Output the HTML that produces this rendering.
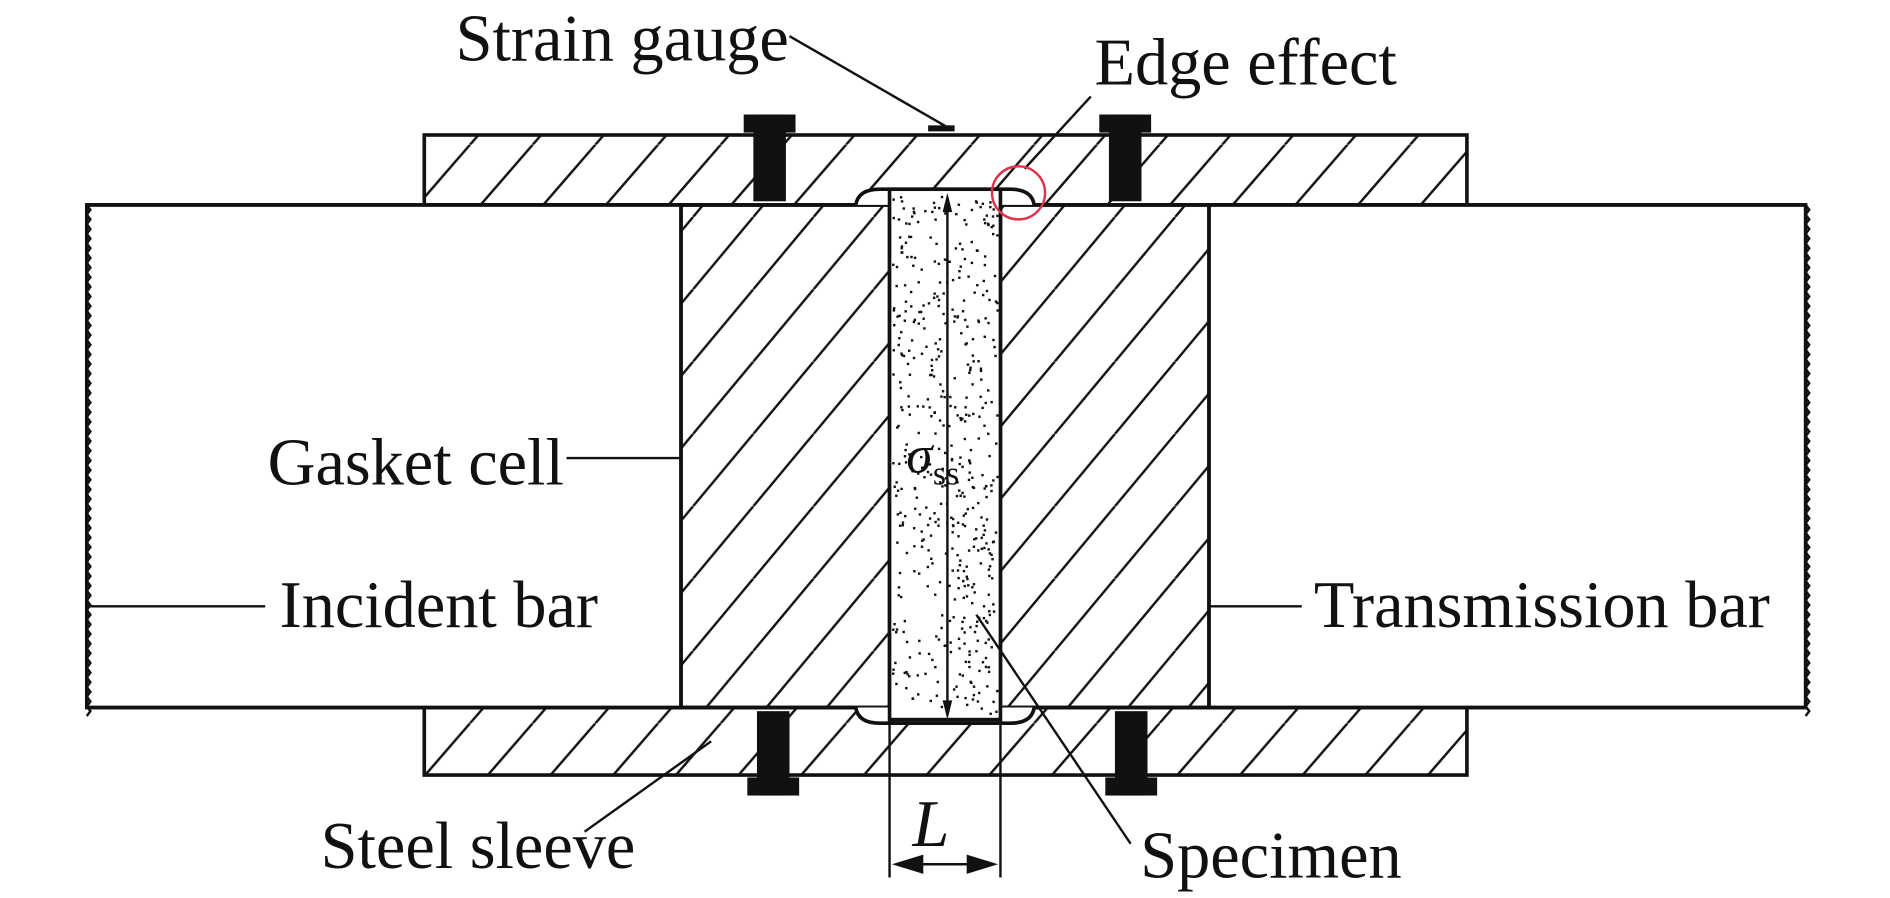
<!DOCTYPE html>
<html><head><meta charset="utf-8"><style>
html,body{margin:0;padding:0;background:#fff;width:1890px;height:898px;overflow:hidden}
svg{display:block}
text{font-family:"Liberation Serif",serif;fill:#111}
</style></head><body>
<svg id="s" width="1890" height="898" viewBox="0 0 1568 745" preserveAspectRatio="none" xmlns="http://www.w3.org/2000/svg">
<defs>
<pattern id="h" patternUnits="userSpaceOnUse" width="50" height="60">
<line x1="-25" y1="60" x2="25" y2="0" stroke="#111" stroke-width="2"/>
<line x1="25" y1="60" x2="75" y2="0" stroke="#111" stroke-width="2"/>
</pattern>
<pattern id="h2" patternUnits="userSpaceOnUse" width="52" height="60">
<line x1="-26" y1="60" x2="26" y2="0" stroke="#111" stroke-width="2"/>
<line x1="26" y1="60" x2="78" y2="0" stroke="#111" stroke-width="2"/>
</pattern>
</defs>
<g stroke="#111" stroke-width="3" fill="none">
<rect x="352" y="112" width="865" height="58" fill="url(#h2)"/>
<rect x="352" y="587" width="865" height="56" fill="url(#h2)"/>
<rect x="72" y="170" width="493" height="417" fill="#fff"/>
<rect x="1003" y="170" width="495" height="417" fill="#fff"/>
<path d="M72 170 L1498 170 M72 587 L1498 587"/>
<rect x="565" y="170" width="173" height="417" fill="url(#h)"/>
<rect x="830" y="170" width="173" height="417" fill="url(#h)"/>
<path d="M710 170 Q712 157 730 157 L838 157 Q856 157 858 170" fill="#fff"/>
<path d="M710 587 Q712 600 730 600 L838 600 Q856 600 858 587" fill="#fff"/>
<rect x="738" y="157" width="92" height="440" fill="#fff"/>
</g>
<g id="dots" fill="#111"></g>
<g fill="#111">
<rect x="617" y="95" width="43" height="15"/><rect x="625" y="95" width="27" height="72"/>
<rect x="912" y="95" width="43" height="15"/><rect x="920" y="95" width="27" height="72"/>
<rect x="620" y="645" width="43" height="15"/><rect x="628" y="590" width="27" height="70"/>
<rect x="917" y="645" width="43" height="15"/><rect x="925" y="590" width="27" height="70"/>
<rect x="770" y="104" width="22" height="5"/>
</g>
<g stroke="#111" stroke-width="2" fill="none">
<line x1="786" y1="170" x2="786" y2="590"/>
<line x1="738" y1="597" x2="738" y2="728"/>
<line x1="830" y1="597" x2="830" y2="728"/>
<line x1="760" y1="717" x2="808" y2="717"/>
<path d="M655 30 L785 105"/>
<path d="M905 80 L850 140"/>
<path d="M470 380 L565 380"/>
<path d="M72 503 L220 503"/>
<path d="M1003 503 L1080 503"/>
<path d="M485 690 L590 615"/>
<path d="M938 700 L810 510"/>
</g>
<g fill="#111">
<polygon points="786,160 782,176 790,176"/>
<polygon points="786,597 782,581 790,581"/>
<polygon points="740,717 766,709 766,725"/>
<polygon points="828,717 802,709 802,725"/>
</g>
<circle cx="845" cy="160" r="22" fill="none" stroke="#e0304a" stroke-width="2"/>
<g font-size="55">
<text x="378" y="50">Strain gauge</text>
<text x="908" y="70">Edge effect</text>
<text x="222" y="402">Gasket cell</text>
<text x="232" y="520">Incident bar</text>
<text x="1090" y="520">Transmission bar</text>
<text x="266" y="720">Steel sleeve</text>
<text x="946" y="728">Specimen</text>
<text x="757" y="702" font-style="italic">L</text>
<text x="752" y="392" font-style="italic" font-size="44">σ</text>
<text x="774" y="402" font-size="28">ss</text>
</g>
</svg>
<script>
(function(){
var ns="http://www.w3.org/2000/svg",g=document.getElementById("dots");
var seed=7;function r(){seed=(seed*16807)%2147483647;return seed/2147483647;}
for(var i=0;i<500;i++){var c=document.createElementNS(ns,"rect");
c.setAttribute("x",(740+r()*87).toFixed(1));c.setAttribute("y",(162+r()*430).toFixed(1));
c.setAttribute("width",2);c.setAttribute("height",2);g.appendChild(c);}
var s=document.getElementById("s");
function wave(x){var d="M"+x+" 170";for(var y=170;y<587;y+=8){d+=" L"+(x+3)+" "+(y+4)+" L"+x+" "+(y+8);}return d;}
[72,1498].forEach(function(x){var p=document.createElementNS(ns,"path");p.setAttribute("d",wave(x));p.setAttribute("stroke","#111");p.setAttribute("stroke-width","2");p.setAttribute("fill","none");s.appendChild(p);});
})();
</script>
</body></html>
